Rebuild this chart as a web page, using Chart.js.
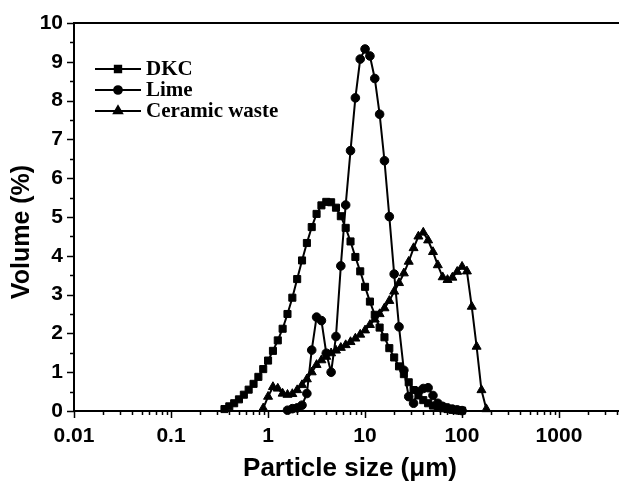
<!DOCTYPE html>
<html>
<head>
<meta charset="utf-8">
<script src="https://cdn.jsdelivr.net/npm/chart.js@4.4.1/dist/chart.umd.min.js"></script>
<style>
  html, body { margin: 0; padding: 0; background: #fff; overflow: hidden; }
  #wrap { width: 619px; height: 484px; position: relative; }
  canvas { display: block; }
</style>
</head>
<body>
<div id="wrap"><canvas id="psdChart" width="619" height="484"></canvas></div>
<script>
// particle size classes (um), shared by all three samples
const sizes = [0.356, 0.399, 0.448, 0.502, 0.564, 0.632, 0.710, 0.796, 0.893, 1.002,
    1.125, 1.262, 1.416, 1.589, 1.783, 2.000, 2.244, 2.518, 2.825, 3.170,
    3.557, 3.991, 4.477, 5.024, 5.637, 6.325, 7.096, 7.962, 8.934, 10.024,
    11.247, 12.619, 14.159, 15.887, 17.825, 20.000, 22.440, 25.179, 28.251, 31.698,
    35.566, 39.905, 44.774, 50.238, 56.368, 63.246, 70.963, 79.621, 89.337, 100.237,
    112.468, 126.191, 141.589, 158.866, 178.250];

// volume (%), null = no point plotted
const dkc = [0.05, 0.12, 0.2, 0.3, 0.42, 0.55, 0.7, 0.88, 1.08, 1.3,
    1.55, 1.82, 2.12, 2.5, 2.92, 3.4, 3.88, 4.33, 4.74, 5.08,
    5.3, 5.39, 5.38, 5.24, 5.02, 4.72, 4.37, 3.97, 3.6, 3.2,
    2.82, 2.48, 2.15, 1.9, 1.62, 1.38, 1.15, 0.95, 0.74, 0.54,
    0.4, 0.28, 0.2, 0.14, 0.1, 0.07, 0.05, 0.03, 0.02, 0.01,
    null, null, null, null, null];

const lime = [null, null, null, null, null, null, null, null, null, null,
    null, null, null, 0.02, 0.06, 0.08, 0.15, 0.45, 1.57, 2.42,
    2.33, 1.49, 1.0, 1.92, 3.74, 5.31, 6.71, 8.07, 9.07, 9.33,
    9.15, 8.57, 7.65, 6.45, 5.01, 3.53, 2.17, 1.05, 0.37, 0.2,
    0.5, 0.58, 0.6, 0.4, 0.2, 0.12, 0.08, 0.05, 0.03, 0.01,
    null, null, null, null, null];

const ceramic = [null, null, null, null, null, null, null, null, 0.07, 0.37,
    0.62, 0.58, 0.45, 0.42, 0.44, 0.54, 0.67, 0.82, 1.0, 1.19,
    1.31, 1.4, 1.49, 1.56, 1.63, 1.7, 1.78, 1.87, 1.97, 2.08,
    2.22, 2.36, 2.5, 2.65, 2.84, 3.08, 3.3, 3.55, 3.85, 4.2,
    4.5, 4.6, 4.4, 4.1, 3.76, 3.45, 3.38, 3.44, 3.59, 3.72,
    3.6, 2.69, 1.66, 0.54, 0.05];

const seriesNames = ['DKC', 'Lime', 'Ceramic waste'];
const seriesStyles = ['rect', 'circle', 'triangle'];
const seriesRadius = [5, 4.3, 5.2];

const xTitle = 'Particle size (\u03bcm)';
const yTitle = 'Volume (%)';

const xMin = 0.01, xMax = 4160;
const yMin = 0, yMax = 10;

const sansBold = { family: 'Liberation Sans, Arial, sans-serif', weight: 'bold' };

function toPoints(vals) {
    return sizes.map((s, i) => ({ x: s, y: vals[i] }));
}

function makeSet(i, vals) {
    return {
        label: seriesNames[i],
        data: toPoints(vals),
        borderColor: '#000',
        backgroundColor: '#000',
        borderWidth: 2,
        pointStyle: seriesStyles[i],
        pointRadius: seriesRadius[i],
        pointBorderWidth: 1,
        pointBackgroundColor: '#000',
        pointBorderColor: '#000',
        spanGaps: false,
        clip: false,
        tension: 0
    };
}

// ticks, top frame line, axis titles and legend
const framePlugin = {
    id: 'frame',
    afterDraw(chart) {
        const ctx = chart.ctx;
        const a = chart.chartArea;
        const xs = chart.scales.x, ys = chart.scales.y;
        ctx.save();
        ctx.strokeStyle = '#000';
        ctx.lineWidth = 2;
        ctx.beginPath();
        ctx.moveTo(a.left - 1, a.top);
        ctx.lineTo(chart.width, a.top);
        ctx.stroke();

        ctx.lineWidth = 1.5;
        ctx.beginPath();
        for (let d = -2; d <= 3; d++) {
            for (let m = 1; m <= 9; m++) {
                const v = m * Math.pow(10, d);
                if (v > xMax) break;
                const px = Math.round(xs.getPixelForValue(v)) + 0.5;
                const len = m === 1 ? 7 : 4;
                ctx.moveTo(px, a.bottom);
                ctx.lineTo(px, a.bottom + len);
            }
        }
        for (let v = yMin; v <= yMax; v += 0.5) {
            const py = Math.round(ys.getPixelForValue(v)) + 0.5;
            const len = Number.isInteger(v) ? 7 : 4;
            ctx.moveTo(a.left, py);
            ctx.lineTo(a.left - len, py);
        }
        ctx.stroke();

        // axis titles
        ctx.fillStyle = '#000';
        ctx.textAlign = 'center';
        ctx.textBaseline = 'middle';
        ctx.font = 'bold 26px "Liberation Sans", Arial, sans-serif';
        ctx.fillText(xTitle, 350, 469);
        ctx.save();
        ctx.translate(22, 232);
        ctx.rotate(-Math.PI / 2);
        ctx.font = 'bold 25px "Liberation Sans", Arial, sans-serif';
        ctx.fillText(yTitle, 0, 0);
        ctx.restore();

        // legend
        const rows = [69, 90, 111];
        ctx.font = 'bold 21px "Liberation Serif", "Times New Roman", serif';
        ctx.textAlign = 'left';
        rows.forEach((y, i) => {
            ctx.strokeStyle = '#000';
            ctx.fillStyle = '#000';
            ctx.lineWidth = 2;
            ctx.beginPath();
            ctx.moveTo(95, y);
            ctx.lineTo(141, y);
            ctx.stroke();
            Chart.helpers.drawPoint(ctx, {
                pointStyle: seriesStyles[i],
                radius: seriesRadius[i] * 0.9,
                rotation: 0,
                borderWidth: 1
            }, 118, y);
            ctx.fillText(seriesNames[i], 146, y + 1);
        });
        ctx.restore();
    }
};

new Chart(document.getElementById('psdChart'), {
    type: 'line',
    data: {
        datasets: [makeSet(0, dkc), makeSet(1, lime), makeSet(2, ceramic)]
    },
    options: {
        responsive: false,
        animation: false,
        layout: { autoPadding: false, padding: { top: 23, right: 0, left: 0, bottom: 0 } },
        plugins: {
            legend: { display: false },
            tooltip: { enabled: false }
        },
        scales: {
            x: {
                type: 'logarithmic',
                min: xMin,
                max: xMax,
                border: { display: true, color: '#000', width: 2 },
                grid: { drawOnChartArea: false, tickLength: 13, tickColor: 'rgba(0,0,0,0)' },
                ticks: {
                    autoSkip: false,
                    maxRotation: 0,
                    color: '#000',
                    padding: 0,
                    font: Object.assign({ size: 21 }, sansBold),
                    callback: (v) => {
                        const l = Math.log10(v);
                        const p = Math.round(l);
                        if (Math.abs(l - p) > 1e-6) return '';
                        return p < 0 ? Math.pow(10, p).toFixed(-p) : String(Math.pow(10, p));
                    }
                },
                afterFit: (scale) => {
                    scale.height = 73;
                    scale.paddingLeft = 0;
                    scale.paddingRight = 0;
                }
            },
            y: {
                type: 'linear',
                min: yMin,
                max: yMax,
                border: { display: true, color: '#000', width: 2 },
                grid: { drawOnChartArea: false, tickLength: 7, tickColor: 'rgba(0,0,0,0)' },
                ticks: {
                    stepSize: 0.5,
                    autoSkip: false,
                    color: '#000',
                    padding: 4,
                    font: Object.assign({ size: 21 }, sansBold),
                    callback: (v) => Number.isInteger(v) ? String(v) : ''
                },
                afterFit: (scale) => { scale.width = 74; }
            }
        }
    },
    plugins: [framePlugin]
});
</script>
</body>
</html>
